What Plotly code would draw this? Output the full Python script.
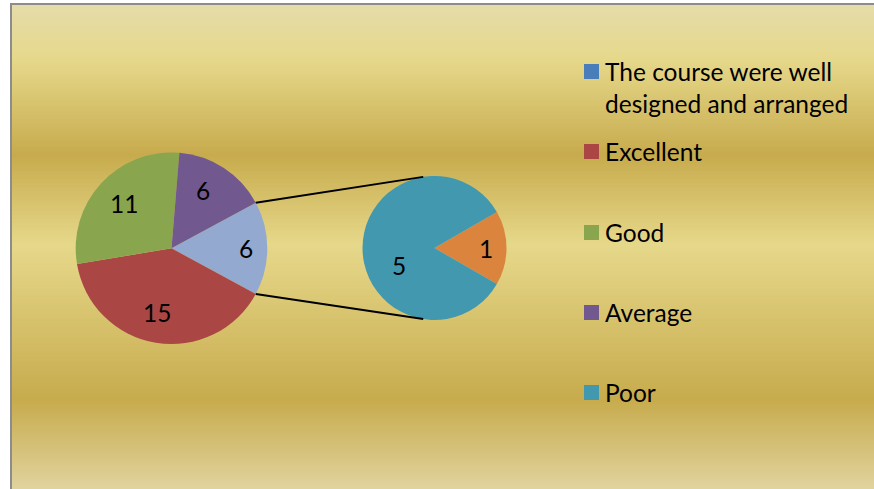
import math
import plotly.graph_objects as go

# ---- data ----
main_labels = ["Other", "Excellent", "Good", "Average"]
main_values = [6, 15, 11, 6]
main_colors = ["#93a9cf", "#aa4644", "#89a54e", "#71588f"]

sub_labels = ["Very poor", "Poor"]
sub_values = [1, 5]
sub_colors = ["#db843d", "#4198af"]

legend_labels = ["The course were well<br>designed and arranged", "Excellent", "Good", "Average", "Poor"]
legend_colors = ["#4a7ebb", "#aa4644", "#89a54e", "#71588f", "#4198af"]

# ---- styling / geometry (pixels) ----
W, H = 874, 489
FONT = "Lato"
FS = 24.5

main_label_r = [0.78, 0.69, 0.68, 0.69]      # radial placement of data labels
main_label_da = [0, 3, 1, -5]                 # angle tweak (deg)
sub_label_r = [0.715, 0.55]
sub_label_da = [0, -27]

def px(x):
    return x / W

def py(y):
    return 1 - y / H

c1 = (171.5, 248.3); r1 = 95.8
c2 = (434.5, 248.0); r2 = 72.0

rot1 = 90 - main_values[0] / sum(main_values) * 180
rot2 = 90 - sub_values[0] / sum(sub_values) * 180

fig = go.Figure()
fig.add_trace(go.Pie(
    labels=main_labels, values=main_values, sort=False, direction="clockwise",
    rotation=rot1, marker=dict(colors=main_colors, line=dict(width=0)),
    textinfo="none",
    domain=dict(x=[px(c1[0] - r1), px(c1[0] + r1)], y=[py(c1[1] + r1), py(c1[1] - r1)]),
    showlegend=False, hoverinfo="label+value",
))
fig.add_trace(go.Pie(
    labels=sub_labels, values=sub_values, sort=False, direction="clockwise",
    rotation=rot2, marker=dict(colors=sub_colors, line=dict(width=0)),
    textinfo="none",
    domain=dict(x=[px(c2[0] - r2), px(c2[0] + r2)], y=[py(c2[1] + r2), py(c2[1] - r2)]),
    showlegend=False, hoverinfo="label+value",
))

shapes = []
annotations = []

# data labels at slice mid-angles
def add_labels(values, rot, c, r, rf, da):
    tot = sum(values)
    start = rot
    for v, f, d in zip(values, rf, da):
        span = v / tot * 360
        mid = math.radians(start + span / 2 + d)
        x = c[0] + f * r * math.sin(mid)
        y = c[1] - f * r * math.cos(mid)
        annotations.append(dict(x=px(x), y=py(y), xref="paper", yref="paper",
                                text=str(v), showarrow=False, xanchor="center", yanchor="middle",
                                font=dict(family=FONT, size=FS, color="black")))
        start += span

add_labels(main_values, rot1, c1, r1, main_label_r, main_label_da)
add_labels(sub_values, rot2, c2, r2, sub_label_r, sub_label_da)

# gradient background (Excel "Gold" preset)
stops = [(5, "#e5dca9"), (60, "#e6d88a"), (155, "#c7ab4d"), (245, "#e6d88a"),
         (400, "#c7ab4d"), (489, "#e0d39e")]

def hex2rgb(h):
    return tuple(int(h[i:i + 2], 16) for i in (1, 3, 5))

def colour_at(y):
    for (ya, ca), (yb, cb) in zip(stops[:-1], stops[1:]):
        if ya <= y <= yb:
            t = (y - ya) / (yb - ya)
            a, b = hex2rgb(ca), hex2rgb(cb)
            return "rgb(%d,%d,%d)" % tuple(round(a[i] + (b[i] - a[i]) * t) for i in range(3))
    return stops[-1][1]

y = 5
while y < H:
    shapes.append(dict(type="rect", xref="paper", yref="paper", layer="below",
                       x0=px(12), x1=1, y0=py(min(y + 2.2, H)), y1=py(y),
                       fillcolor=colour_at(y + 1), line=dict(width=0)))
    y += 2
# frame
shapes.append(dict(type="line", xref="paper", yref="paper", x0=px(11), x1=px(11), y0=0, y1=py(3.5),
                   line=dict(color="#8c8c8c", width=2)))
shapes.append(dict(type="line", xref="paper", yref="paper", x0=px(10), x1=1, y0=py(4), y1=py(4),
                   line=dict(color="#8c8c8c", width=2)))

# connector lines from edges of the "Other" slice to the secondary pie
other_frac = main_values[0] / sum(main_values)
a_top = math.radians(90 - other_frac * 180)
a_bot = math.radians(90 + other_frac * 180)
p_top = (c1[0] + r1 * math.sin(a_top), c1[1] - r1 * math.cos(a_top))
p_bot = (c1[0] + r1 * math.sin(a_bot), c1[1] - r1 * math.cos(a_bot))
b_top_ang = math.radians(-9)
b_bot_ang = math.radians(189)
q_top = (c2[0] + r2 * math.sin(b_top_ang), c2[1] - r2 * math.cos(b_top_ang))
q_bot = (c2[0] + r2 * math.sin(b_bot_ang), c2[1] - r2 * math.cos(b_bot_ang))
for p, q in ((p_top, q_top), (p_bot, q_bot)):
    shapes.append(dict(type="line", xref="paper", yref="paper",
                       x0=px(p[0]), y0=py(p[1]), x1=px(q[0]), y1=py(q[1]),
                       line=dict(color="black", width=2)))

# legend (squares + text)
leg_y = [71.5, 151.5, 232.5, 312.5, 392.5]
for i, (lab, col) in enumerate(zip(legend_labels, legend_colors)):
    yc = leg_y[i]
    shapes.append(dict(type="rect", xref="paper", yref="paper",
                       x0=px(584), x1=px(599), y0=py(yc + 7.5), y1=py(yc - 7.5),
                       fillcolor=col, line=dict(width=0)))
    ty = yc if i != 0 else yc + 16
    annotations.append(dict(x=px(603), y=py(ty), xref="paper", yref="paper",
                            text=lab, showarrow=False, xanchor="left", yanchor="middle",
                            align="left", font=dict(family=FONT, size=FS, color="black")))

fig.update_layout(
    width=W, height=H, autosize=False,
    margin=dict(l=0, r=0, t=0, b=0),
    paper_bgcolor="white", plot_bgcolor="white",
    shapes=shapes, annotations=annotations,
    showlegend=False,
)
fig.write_html("out.html", config={"displayModeBar": False},
               post_script="document.body.style.margin='0';document.body.style.overflow='hidden';")
